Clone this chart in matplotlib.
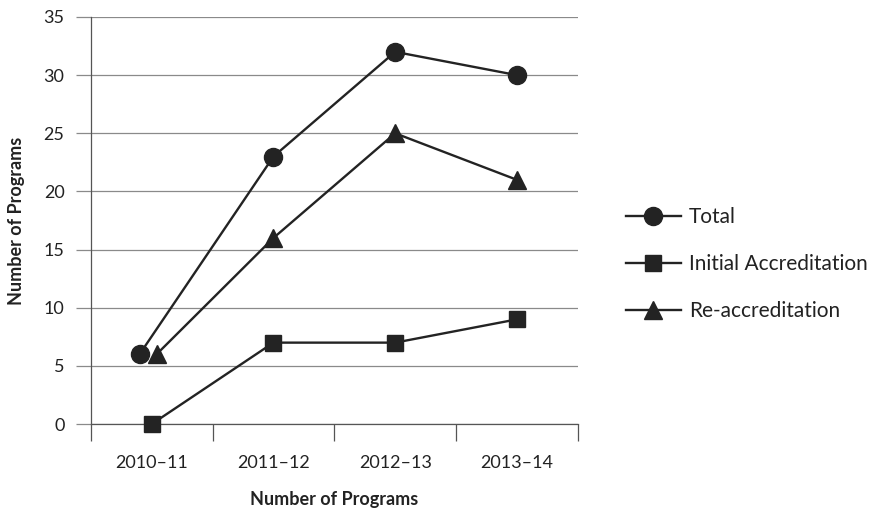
import numpy as np
import matplotlib.pyplot as plt

years = ['2010–11', '2011–12', '2012–13', '2013–14']
total = [6, 23, 32, 30]
initial = [0, 7, 7, 9]
reaccred = [6, 16, 25, 21]

plt.rcParams['font.family'] = ['Lato', 'DejaVu Sans']

fig = plt.figure(figsize=(8.74, 5.14), dpi=100)
ax = fig.add_axes([0.104, 0.175, 0.557, 0.792])

x = np.arange(len(years), dtype=float)
ink = '#232323'

# nudge the first-year markers apart so the circle and triangle don't overlap
x_total = x.copy()
x_total[0] -= 0.1
x_re = x.copy()
x_re[0] += 0.04

ax.plot(x_total, total, color=ink, lw=1.7, marker='o', ms=13, label='Total', zorder=3)
ax.plot(x, initial, color=ink, lw=1.7, marker='s', ms=12,
        label='Initial Accreditation', zorder=3, clip_on=False)
ax.plot(x_re, reaccred, color=ink, lw=1.7, marker='^', ms=13, label='Re-accreditation', zorder=3)

ax.set_xlim(-0.5, 3.5)
ax.set_ylim(0, 35)
ax.set_yticks(range(0, 36, 5))
ax.set_xticks(x)
ax.set_xticklabels(years)
ax.set_xticks(np.arange(-0.5, 4.0, 1.0), minor=True)

ax.grid(axis='y', color='#8a8a8a', lw=0.9)
ax.set_axisbelow(True)
for side in ['top', 'right']:
    ax.spines[side].set_visible(False)
ax.spines['left'].set_color('#555555')
ax.spines['bottom'].set_color('#555555')
ax.spines['left'].set_linewidth(0.9)
ax.spines['bottom'].set_linewidth(0.9)

ax.tick_params(axis='x', which='major', length=0, pad=22, labelsize=13, colors='#222222')
ax.tick_params(axis='x', which='minor', length=12, width=0.9, color='#555555')
ax.tick_params(axis='y', length=11, width=0.9, color='#8a8a8a', pad=8,
               labelsize=13, labelcolor='#222222')

ax.set_xlabel('Number of Programs', fontsize=13, fontweight='bold', labelpad=15, color='#222222')
ax.set_ylabel('Number of Programs', fontsize=13, fontweight='bold', labelpad=13, color='#222222')

ax.legend(loc='center left', bbox_to_anchor=(1.06, 0.393), frameon=False,
          fontsize=15, handlelength=2.65, labelspacing=1.3, handletextpad=0.4,
          labelcolor='#222222')

fig.savefig('out.png', dpi=100)
